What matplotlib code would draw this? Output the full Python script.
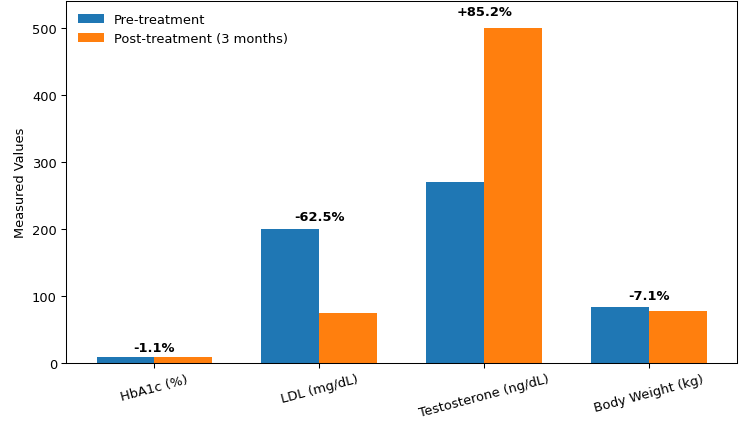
import numpy as np
import matplotlib
matplotlib.use("Agg")
import matplotlib.pyplot as plt

# 指标与数值
metrics = ["HbA1c (%)", "LDL (mg/dL)", "Testosterone (ng/dL)", "Body Weight (kg)"]
pre_vals = [8.8, 200, 270, 84]
post_vals = [8.7, 75, 500, 78]
change_labels = ["-1.1%", "-62.5%", "+85.2%", "-7.1%"]

x = np.arange(len(metrics))
width = 0.35

# 8x4.64英寸, dpi 93.75 -> 750x435
fig, ax = plt.subplots(figsize=(8, 4.64))
ax.bar(x - width / 2, pre_vals, width, label="Pre-treatment", color="#1f77b4")
ax.bar(x + width / 2, post_vals, width, label="Post-treatment (3 months)", color="#ff7f0e")

# 变化百分比标注
for i in range(len(metrics)):
    top = max(pre_vals[i], post_vals[i])
    ax.text(x[i], top * 1.02 + 5, change_labels[i], ha="center", va="bottom",
            fontweight="bold")

ax.set_xticks(x)
ax.set_xticklabels(metrics, rotation=15)
ax.set_ylabel("Measured Values")
ax.set_ylim(0, 540)
ax.legend(loc="upper left", frameon=False)

fig.subplots_adjust(left=0.088, right=0.983, top=0.995, bottom=0.163)
fig.savefig("out.png", dpi=93.75)
